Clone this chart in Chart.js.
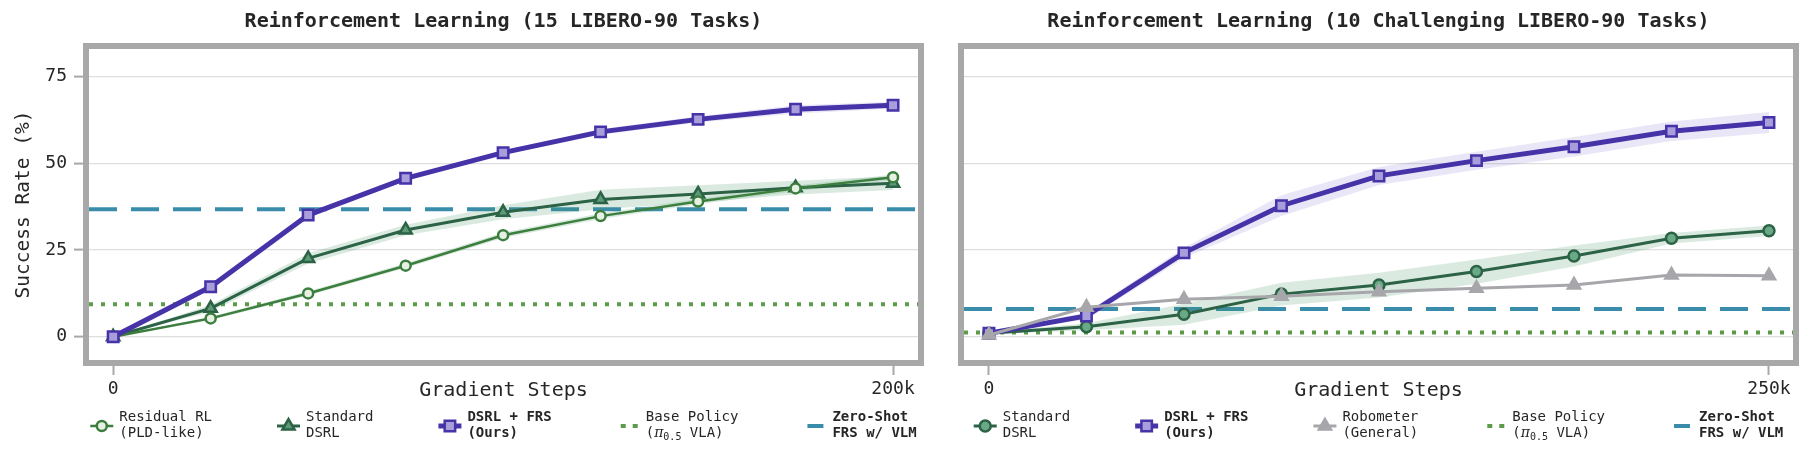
<!DOCTYPE html>
<html>
<head>
<meta charset="utf-8">
<title>Reinforcement Learning on LIBERO-90</title>
<script src="https://cdn.jsdelivr.net/npm/chart.js"></script>
<style>
  body { margin: 0; background: #fff; }
  #wrap { position: relative; width: 1812px; height: 463px; }
  canvas { position: absolute; top: 0; }
  #chart-a { left: 0; }
  #chart-b { left: 940px; }
</style>
</head>
<body>
<div id="wrap">
  <canvas id="chart-a" width="940" height="463"></canvas>
  <canvas id="chart-b" width="872" height="463"></canvas>
</div>
<script>
// ---- left panel: 15 LIBERO-90 tasks ----
const stepsA = [0, 25000, 50000, 75000, 100000, 125000, 150000, 175000, 200000];
const residualA = [0, 5.3, 12.5, 20.5, 29.3, 34.8, 39.0, 42.8, 46.0];
const residualLoA = [0, 4.8, 11.9, 19.8, 28.5, 34.0, 38.2, 42.0, 45.2];
const residualHiA = [0, 5.8, 13.1, 21.2, 30.1, 35.6, 39.8, 43.6, 46.8];
const standardA = [0, 8.2, 22.6, 30.8, 35.9, 39.6, 41.2, 43.0, 44.3];
const standardLoA = [0, 7.2, 21.1, 29.3, 33.9, 36.8, 38.7, 41.0, 42.3];
const standardHiA = [0, 9.2, 24.1, 32.3, 37.9, 42.4, 43.7, 45.0, 46.3];
const frsA = [0, 14.4, 35.1, 45.7, 53.1, 59.1, 62.7, 65.6, 66.8];
const frsLoA = [0, 13.9, 34.5, 45.1, 52.4, 58.3, 61.8, 64.4, 65.8];
const frsHiA = [0, 14.9, 35.7, 46.3, 53.8, 59.9, 63.6, 66.8, 67.8];
const basePolicyA = 9.4;
const zeroShotA = 36.8;
const xTicksA = [0, 200000];
const xTickLabelsA = ['0', '200k'];

// ---- right panel: 10 challenging LIBERO-90 tasks ----
const stepsB = [0, 31250, 62500, 93750, 125000, 156250, 187500, 218750, 250000];
const standardB = [1.0, 2.9, 6.5, 12.3, 14.9, 18.8, 23.3, 28.4, 30.6];
const standardLoB = [0.7, 1.9, 3.5, 9.0, 11.3, 15.3, 20.3, 26.9, 29.1];
const standardHiB = [1.3, 3.9, 9.5, 15.6, 18.5, 22.3, 26.3, 29.9, 32.1];
const frsB = [1.0, 6.0, 24.2, 37.8, 46.4, 50.8, 54.8, 59.3, 61.8];
const frsLoB = [0.7, 5.0, 22.7, 34.8, 43.8, 48.2, 52.0, 56.5, 58.8];
const frsHiB = [1.3, 7.0, 25.7, 40.8, 49.0, 53.4, 57.6, 62.1, 64.8];
const robometerB = [0.5, 8.5, 10.8, 11.7, 13.0, 14.0, 14.9, 17.8, 17.6];
const basePolicyB = 1.2;
const zeroShotB = 8.0;
const xTicksB = [0, 250000];
const xTickLabelsB = ['0', '250k'];

const yTicks = [0, 25, 50, 75];
const Y_MIN = -6.7, Y_MAX = 83;
const X_RANGE_A = [-6200, 206400];
const X_RANGE_B = [-8000, 257700];

const titleA = 'Reinforcement Learning (15 LIBERO-90 Tasks)';
const titleB = 'Reinforcement Learning (10 Challenging LIBERO-90 Tasks)';
const basePolicyLabel = ['Base Policy', ['(', {t: 'π', italic: true}, {t: '0.5', sub: true}, ' VLA)']];

// ---- look ----
const FONT = '"DejaVu Sans Mono", "Liberation Mono", monospace';
const INK = '#262626';
const GRID = '#dedede';
const FRAME = '#a8a8a8';
const LEG_SIZE = 14;

const styles = {
  residual: {color: '#3c7e3d', fill: '#e6f1e4', marker: 'circle', radius: 5, edge: 2.5, width: 2.5},
  standardA: {color: '#2c6245', fill: '#5d9a78', marker: 'triangle', radius: 7, edge: 2.5, width: 3},
  standardB: {color: '#2c6245', fill: '#69a985', marker: 'circle', radius: 5.5, edge: 2.5, width: 3},
  frs: {color: '#4633a8', fill: '#a99ddc', marker: 'rect', radius: 7.4, edge: 2.5, width: 5},
  robometer: {color: '#a7a7ab', fill: '#a7a7ab', marker: 'triangle', radius: 7.5, edge: 2, width: 3},
  base: {color: '#5b9b49', width: 4, dash: [4, 8]},
  zeroShot: {color: '#3a8daa', width: 4, dash: [28, 14]}
};
const purpleBand = 'rgba(110, 90, 200, 0.15)';
const greenBand = 'rgba(70, 150, 100, 0.2)';

function pts(xs, ys) { return xs.map((x, i) => ({x, y: ys[i]})); }

function series(label, xs, ys, s, order) {
  return {
    label, data: pts(xs, ys), order,
    borderColor: s.color, borderWidth: s.width, backgroundColor: s.fill,
    pointStyle: s.marker, pointRadius: s.radius, pointBorderWidth: s.edge,
    pointBackgroundColor: s.fill, pointBorderColor: s.color,
    fill: false, tension: 0
  };
}

function band(xs, lo, hi, color, order) {
  return [
    {label: '_lo', data: pts(xs, lo), order, borderWidth: 0, pointRadius: 0, fill: false},
    {label: '_hi', data: pts(xs, hi), order, borderWidth: 0, pointRadius: 0, fill: '-1', backgroundColor: color}
  ];
}

function hline(label, y, range, s, order) {
  return {
    label, data: pts(range, [y, y]), order,
    borderColor: s.color, borderWidth: s.width, borderDash: s.dash, borderCapStyle: 'butt',
    pointRadius: 0, fill: false
  };
}

// ---- legend drawn under each panel ----
function runsOf(line) {
  return (typeof line === 'string' ? [line] : line).map(r => typeof r === 'string' ? {t: r} : r);
}
function runFont(r, bold) {
  const size = r.sub ? 10 : LEG_SIZE;
  const fam = r.italic ? '"DejaVu Serif", serif' : FONT;
  return (r.italic ? 'italic ' : '') + (bold ? 'bold ' : '') + size + 'px ' + fam;
}
function textWidth(ctx, line, bold) {
  let w = 0;
  for (const r of runsOf(line)) { ctx.font = runFont(r, bold); w += ctx.measureText(r.t).width; }
  return w;
}
function drawText(ctx, line, bold, x, y) {
  for (const r of runsOf(line)) {
    ctx.font = runFont(r, bold);
    ctx.fillText(r.t, x, y + (r.sub ? 4 : 0));
    x += ctx.measureText(r.t).width;
  }
}
function drawMarker(ctx, s, cx, cy) {
  ctx.beginPath();
  if (s.marker === 'circle') {
    ctx.arc(cx, cy, s.radius, 0, Math.PI * 2);
  } else if (s.marker === 'rect') {
    const h = s.radius * Math.SQRT1_2;
    ctx.rect(cx - h, cy - h, 2 * h, 2 * h);
  } else {
    const r = s.radius;
    ctx.moveTo(cx, cy - r);
    ctx.lineTo(cx + r * 0.866, cy + r / 2);
    ctx.lineTo(cx - r * 0.866, cy + r / 2);
    ctx.closePath();
  }
  ctx.fillStyle = s.fill;
  ctx.fill();
  ctx.lineWidth = s.edge;
  ctx.strokeStyle = s.color;
  ctx.stroke();
}

const HANDLE = 23, TEXT_PAD = 6, COL_GAP = 65, ROW1 = 417, ROW_H = 16;

function legendPlugin(items) {
  return {
    id: 'panelLegend',
    afterDraw(chart) {
      const ctx = chart.ctx;
      const ca = chart.chartArea;
      ctx.save();
      const widths = items.map(it =>
        HANDLE + TEXT_PAD + Math.max(...it.lines.map(l => textWidth(ctx, l, it.bold))));
      const total = widths.reduce((a, b) => a + b, 0) + COL_GAP * (items.length - 1);
      let x = (ca.left + ca.right) / 2 - total / 2;
      const hy = ROW1 + ROW_H / 2 + 1;
      items.forEach((it, i) => {
        const s = it.style;
        ctx.beginPath();
        ctx.setLineDash(s.marker ? [] : (s.dash[0] > 10 ? [] : [5, 7]));
        const x0 = s.marker ? x : x + 4;
        const x1 = s.marker ? x + HANDLE : (s.dash[0] > 10 ? x + HANDLE - 3 : x + HANDLE);
        ctx.moveTo(x0, hy);
        ctx.lineTo(x1, hy);
        ctx.lineWidth = s.width;
        ctx.strokeStyle = s.color;
        ctx.lineCap = 'butt';
        ctx.stroke();
        ctx.setLineDash([]);
        if (s.marker) drawMarker(ctx, s, x + HANDLE / 2, hy);
        ctx.fillStyle = INK;
        ctx.textBaseline = 'middle';
        ctx.textAlign = 'left';
        it.lines.forEach((l, k) => drawText(ctx, l, it.bold, x + HANDLE + TEXT_PAD, ROW1 + k * ROW_H));
        x += widths[i] + COL_GAP;
      });
      ctx.restore();
    }
  };
}

const framePlugin = {
  id: 'panelFrame',
  afterDatasetsDraw(chart) {
    const {ctx, chartArea: ca} = chart;
    ctx.save();
    ctx.strokeStyle = FRAME;
    ctx.lineWidth = 6;
    ctx.strokeRect(ca.left - 3, ca.top - 3, ca.width + 6, ca.height + 6);
    ctx.restore();
  }
};

function makeChart(canvas, cfg) {
  const tickFont = {family: FONT, size: 18};
  return new Chart(canvas, {
    type: 'line',
    data: {datasets: cfg.datasets},
    options: {
      responsive: false,
      animation: false,
      events: [],
      layout: {padding: {left: 0, right: cfg.padRight, top: 0, bottom: 58}},
      plugins: {
        legend: {display: false},
        tooltip: {enabled: false},
        title: {
          display: true, text: cfg.title, fullSize: false, color: INK,
          font: {family: FONT, size: 20, weight: 'bold'},
          padding: {top: 10, bottom: 15}
        }
      },
      scales: {
        x: {
          type: 'linear', min: cfg.xRange[0], max: cfg.xRange[1],
          afterBuildTicks: s => { s.ticks = cfg.xTicks.map(v => ({value: v})); },
          afterFit: s => { s.height = 45; },
          border: {display: false},
          grid: {drawOnChartArea: false, drawTicks: true, tickLength: 15, tickColor: FRAME, tickWidth: 2},
          ticks: {font: tickFont, color: INK, padding: 4, maxRotation: 0, autoSkip: false,
                  callback: (v, i) => cfg.xTickLabels[i]},
          title: {display: true, text: 'Gradient Steps', color: INK,
                  font: {family: FONT, size: 20}, padding: {top: 0, bottom: 2}}
        },
        y: {
          min: Y_MIN, max: Y_MAX,
          afterBuildTicks: s => { s.ticks = yTicks.map(v => ({value: v})); },
          afterFit: s => { s.width = cfg.yWidth; },
          border: {display: false},
          grid: {color: GRID, lineWidth: 1.2, drawTicks: cfg.yLabels, tickLength: 15, tickColor: FRAME, tickWidth: 2},
          ticks: {display: cfg.yLabels, font: tickFont, color: INK, padding: 7},
          title: {display: cfg.yLabels, text: 'Success Rate (%)', color: INK,
                  font: {family: FONT, size: 19.5}, padding: {top: 12, bottom: 0}}
        }
      }
    },
    plugins: [framePlugin, legendPlugin(cfg.legend)]
  });
}

makeChart(document.getElementById('chart-a'), {
  title: titleA, xRange: X_RANGE_A, xTicks: xTicksA, xTickLabels: xTickLabelsA,
  yWidth: 89, yLabels: true, padRight: 22,
  datasets: [
    series('DSRL + FRS (Ours)', stepsA, frsA, styles.frs, 1),
    series('Residual RL (PLD-like)', stepsA, residualA, styles.residual, 2),
    series('Standard DSRL', stepsA, standardA, styles.standardA, 3),
    ...band(stepsA, frsLoA, frsHiA, purpleBand, 4),
    ...band(stepsA, residualLoA, residualHiA, greenBand, 5),
    ...band(stepsA, standardLoA, standardHiA, greenBand, 5),
    hline('Zero-Shot FRS w/ VLM', zeroShotA, X_RANGE_A, styles.zeroShot, 8),
    hline('Base Policy', basePolicyA, X_RANGE_A, styles.base, 8)
  ],
  legend: [
    {lines: ['Residual RL', '(PLD-like)'], style: styles.residual},
    {lines: ['Standard', 'DSRL'], style: styles.standardA},
    {lines: ['DSRL + FRS', '(Ours)'], bold: true, style: styles.frs},
    {lines: basePolicyLabel, style: styles.base},
    {lines: ['Zero-Shot', 'FRS w/ VLM'], bold: true, style: styles.zeroShot}
  ]
});

makeChart(document.getElementById('chart-b'), {
  title: titleB, xRange: X_RANGE_B, xTicks: xTicksB, xTickLabels: xTickLabelsB,
  yWidth: 24, yLabels: false, padRight: 19,
  datasets: [
    series('Robometer (General)', stepsB, robometerB, styles.robometer, 1),
    series('DSRL + FRS (Ours)', stepsB, frsB, styles.frs, 2),
    series('Standard DSRL', stepsB, standardB, styles.standardB, 3),
    ...band(stepsB, frsLoB, frsHiB, purpleBand, 4),
    ...band(stepsB, standardLoB, standardHiB, greenBand, 5),
    hline('Zero-Shot FRS w/ VLM', zeroShotB, X_RANGE_B, styles.zeroShot, 8),
    hline('Base Policy', basePolicyB, X_RANGE_B, styles.base, 8)
  ],
  legend: [
    {lines: ['Standard', 'DSRL'], style: styles.standardB},
    {lines: ['DSRL + FRS', '(Ours)'], bold: true, style: styles.frs},
    {lines: ['Robometer', '(General)'], style: styles.robometer},
    {lines: basePolicyLabel, style: styles.base},
    {lines: ['Zero-Shot', 'FRS w/ VLM'], bold: true, style: styles.zeroShot}
  ]
});
</script>
</body>
</html>
